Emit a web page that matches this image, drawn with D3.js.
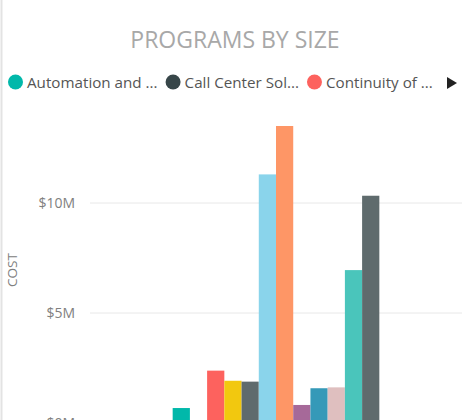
<!DOCTYPE html>
<html>
<head>
  <script src="https://d3js.org/d3.v7.min.js"></script>
  <style>
    body { margin: 0; background: #fff; }
    text { font-family: "Open Sans", "Noto Sans", sans-serif; }
  </style>
</head>
<body>
<svg width="465" height="420"></svg>
<script>
  // Series shown in the legend (truncated as in the visual)
  const legendLabels = ["Automation and ...", "Call Center Sol...", "Continuity of ..."];

  // One bar per program, cost in $M
  const costs = [0.68, 0, 2.38, 1.92, 1.88, 11.3, 13.5, 0.82, 1.58, 1.62, 6.95, 10.33];
  const colors = ["#01B8AA", "#374649", "#FD625E", "#F2C80F", "#5F6B6D", "#8AD4EB",
                  "#FE9666", "#A66999", "#3599B8", "#DFBFBF", "#4AC5BB", "#5F6B6D"];
  const yTicks = [0, 5, 10];

  const svg = d3.select("svg");

  const plot = {left: 90, right: 462, top: 93, bottom: 423};

  // card border on the left
  svg.append("line")
    .attr("x1", 1.5).attr("x2", 1.5)
    .attr("y1", 0).attr("y2", 420)
    .attr("stroke", "#e3e3e3")
    .attr("stroke-width", 2);

  // title
  svg.append("text")
    .attr("x", 235)
    .attr("y", 48)
    .attr("text-anchor", "middle")
    .attr("font-size", 23)
    .attr("fill", "#a8a8a8")
    .text("PROGRAMS BY SIZE");

  // legend
  let lx = 8;
  legendLabels.forEach((lab, i) => {
    svg.append("circle")
      .attr("cx", lx + 7.5)
      .attr("cy", 82)
      .attr("r", 7.5)
      .attr("fill", colors[i]);
    const t = svg.append("text")
      .attr("x", lx + 19)
      .attr("y", 87.5)
      .attr("font-size", 15.2)
      .attr("fill", "#555")
      .text(lab);
    lx = lx + 19 + t.node().getComputedTextLength() + 8;
  });
  svg.append("path")
    .attr("d", "M447,77L457,83L447,89Z")
    .attr("fill", "#222");

  // scales
  const x0 = d3.scaleBand()
    .domain(["All"])
    .range([plot.left, plot.right])
    .paddingOuter(0.4);
  const x1 = d3.scaleBand()
    .domain(d3.range(costs.length))
    .range([0, x0.bandwidth()]);
  const y = d3.scaleLinear()
    .domain([0, 15])
    .range([plot.bottom, plot.top]);

  // gridlines
  svg.append("g")
    .selectAll("line")
    .data(yTicks)
    .join("line")
      .attr("x1", plot.left)
      .attr("x2", plot.right)
      .attr("y1", d => y(d))
      .attr("y2", d => y(d))
      .attr("stroke", "#e8e8e8")
      .attr("stroke-width", 1);

  // y axis labels
  svg.append("g")
    .selectAll("text")
    .data(yTicks)
    .join("text")
      .attr("x", 75)
      .attr("y", d => y(d))
      .attr("dy", "0.35em")
      .attr("text-anchor", "end")
      .attr("font-size", 14)
      .attr("fill", "#808080")
      .text(d => "$" + d + "M");

  svg.append("text")
    .attr("transform", "translate(17,270) rotate(-90)")
    .attr("text-anchor", "middle")
    .attr("font-size", 13.5)
    .attr("fill", "#808080")
    .text("COST");

  // bars
  svg.append("g")
    .attr("transform", `translate(${x0("All")},0)`)
    .selectAll("rect")
    .data(costs)
    .join("rect")
      .attr("x", (d, i) => x1(i))
      .attr("y", d => y(d))
      .attr("width", x1.bandwidth())
      .attr("height", d => y(0) - y(d))
      .attr("fill", (d, i) => colors[i]);
</script>
</body>
</html>
